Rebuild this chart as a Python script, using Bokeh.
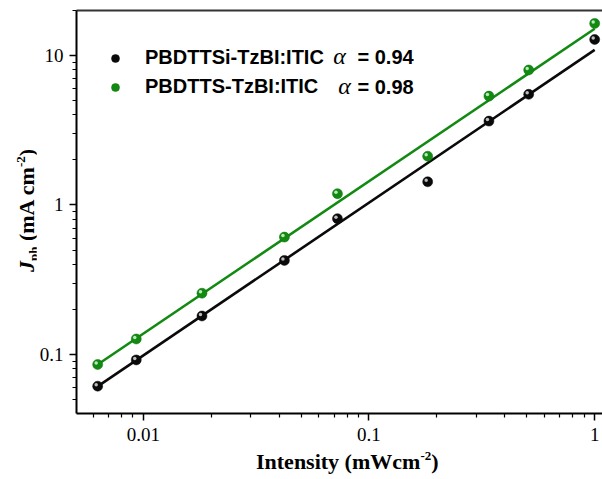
import numpy as np
from bokeh.plotting import figure
from bokeh.models import (Range1d, FixedTicker, LogAxis, Label, Legend, LegendItem, Div)
from bokeh.layouts import row, column
from bokeh.embed import file_html
from bokeh.resources import INLINE

# ---- data ----
intensity = [0.00628, 0.00931, 0.0182, 0.0422, 0.0725, 0.182, 0.340, 0.510, 1.0]
jph_si = [0.0614, 0.092, 0.181, 0.426, 0.81, 1.43, 3.64, 5.5, 12.8]
jph_s = [0.0857, 0.127, 0.257, 0.61, 1.19, 2.12, 5.35, 8.0, 16.4]
fit_x = [0.00628, 1.0]
fit_si = [0.0612, 10.9]
fit_s = [0.0857, 15.1]
series_names = ["PBDTTSi-TzBI:ITIC", "PBDTTS-TzBI:ITIC"]
alphas = ["= 0.94", "= 0.98"]
x_ticks = [0.01, 0.1, 1]
x_tick_labels = ["0.01", "0.1", "1"]
y_ticks = [0.1, 1, 10]
y_tick_labels = ["0.1", "1", "10"]

W, H = 602, 479
YW = 36          # width of the y-title strip
XH = 31          # height of the x-title strip
FW, FH = W - YW, H - XH

p = figure(width=FW, height=FH, x_axis_type="log", y_axis_type="log",
           x_range=Range1d(0.00506, 1.083), y_range=Range1d(0.0403, 20.0),
           output_backend="svg", toolbar_location=None,
           min_border_left=40, min_border_right=0, min_border_top=10, min_border_bottom=35)
p.grid.visible = False
p.outline_line_color = None

minor_x = [m * d for d in [0.001, 0.01, 0.1, 1] for m in range(2, 10)]
minor_y = [m * d for d in [0.01, 0.1, 1, 10] for m in range(2, 10)]

for ax, ticks, labels, minors in [(p.xaxis[0], x_ticks, x_tick_labels, minor_x),
                                  (p.yaxis[0], y_ticks, y_tick_labels, minor_y)]:
    ax.ticker = FixedTicker(ticks=ticks, minor_ticks=minors)
    ax.major_label_overrides = {t: l for t, l in zip(ticks, labels)}
    ax.axis_line_width = 2
    ax.axis_line_color = "black"
    ax.major_tick_line_width = 1.5
    ax.minor_tick_line_width = 1.2
    ax.major_tick_in = 0
    ax.minor_tick_in = 0
    ax.major_tick_out = 7
    ax.minor_tick_out = 4
    ax.major_label_text_font = "Liberation Serif"
    ax.major_label_text_font_size = "19px"
    ax.major_label_text_color = "black"

p.xaxis.major_label_standoff = 7
p.yaxis.major_label_standoff = 6

top = LogAxis(ticker=FixedTicker(ticks=[]), major_tick_out=0, major_tick_in=0,
              minor_tick_out=0, minor_tick_in=0, major_label_text_font_size="0px",
              axis_line_width=2, axis_line_color="#333333")
p.add_layout(top, "above")

# spheres: base + small highlight shifted up-left by ~1.5 px
dx = 10 ** (-1.5 / 225.7)
dy = 10 ** (1.5 / 149.5)

black = "#0a0a0a"
green = "#128a12"
p.line(fit_x, fit_si, line_color=black, line_width=2.6)
p.line(fit_x, fit_s, line_color=green, line_width=2.6)
r_si = p.scatter(intensity, jph_si, size=10, fill_color=black, line_color=black, line_width=0.5)
p.scatter(list(np.array(intensity) * dx), list(np.array(jph_si) * dy), size=3.5,
          fill_color="#bdbdbd", line_color=None)
r_s = p.scatter(intensity, jph_s, size=10, fill_color=green, line_color="#0d700d", line_width=0.5)
p.scatter(list(np.array(intensity) * dx), list(np.array(jph_s) * dy), size=3.5,
          fill_color="#b9e8b9", line_color=None)

leg = Legend(items=[LegendItem(label=series_names[0], renderers=[r_si]),
                    LegendItem(label=series_names[1], renderers=[r_s])],
             location=(29, 315), padding=0, margin=0, spacing=6,
             glyph_width=20, glyph_height=20, label_height=20, label_standoff=20,
             label_text_font="Liberation Sans", label_text_font_style="bold",
             label_text_font_size="20px", label_text_color="black",
             border_line_color=None, background_fill_alpha=0)
p.add_layout(leg, "center")

for i, (a, ax_) in enumerate(zip(alphas, [339 - YW, 344 - YW])):
    yc = 56 + 30 * i
    p.add_layout(Label(x=ax_, y=yc - 1, x_units="canvas", y_units="canvas", text="α",
                       text_font="Liberation Serif", text_font_style="italic",
                       text_font_size="24px", text_baseline="middle", text_align="center",
                       text_color="black"))
    p.add_layout(Label(x=357 - YW, y=yc, x_units="canvas", y_units="canvas", text=a,
                       text_font="Liberation Sans", text_font_style="bold",
                       text_font_size="20px", text_baseline="middle", text_align="left",
                       text_color="black"))

font_css = "font-family:'Liberation Serif',serif;font-weight:bold;font-size:22px;line-height:22px;color:black;white-space:nowrap;"
sub_css = "font-size:13px;position:relative;top:4px;"
sup_css = "font-size:13px;position:relative;top:-9px;"

ytitle = Div(width=YW, height=H, margin=0, text=(
    f'<div style="position:relative;width:{YW}px;height:{H}px;">'
    f'<div style="position:absolute;left:16px;top:272px;transform:rotate(-90deg);'
    f'transform-origin:0 0;{font_css}">'
    f'<i>J</i><span style="{sub_css}">ph</span> (mA cm<span style="{sup_css}">-2</span>)'
    '</div></div>'))

xtitle = Div(width=FW, height=XH, margin=0, text=(
    f'<div style="position:relative;width:{FW}px;height:{XH}px;">'
    f'<div style="position:absolute;left:{256 - YW}px;top:3px;{font_css}">'
    f'Intensity (mWcm<span style="{sup_css}">-2</span>)'
    '</div></div>'))

layout = row(ytitle, column(p, xtitle, spacing=0), spacing=0)

open("out.html", "w").write(file_html(layout, INLINE))
